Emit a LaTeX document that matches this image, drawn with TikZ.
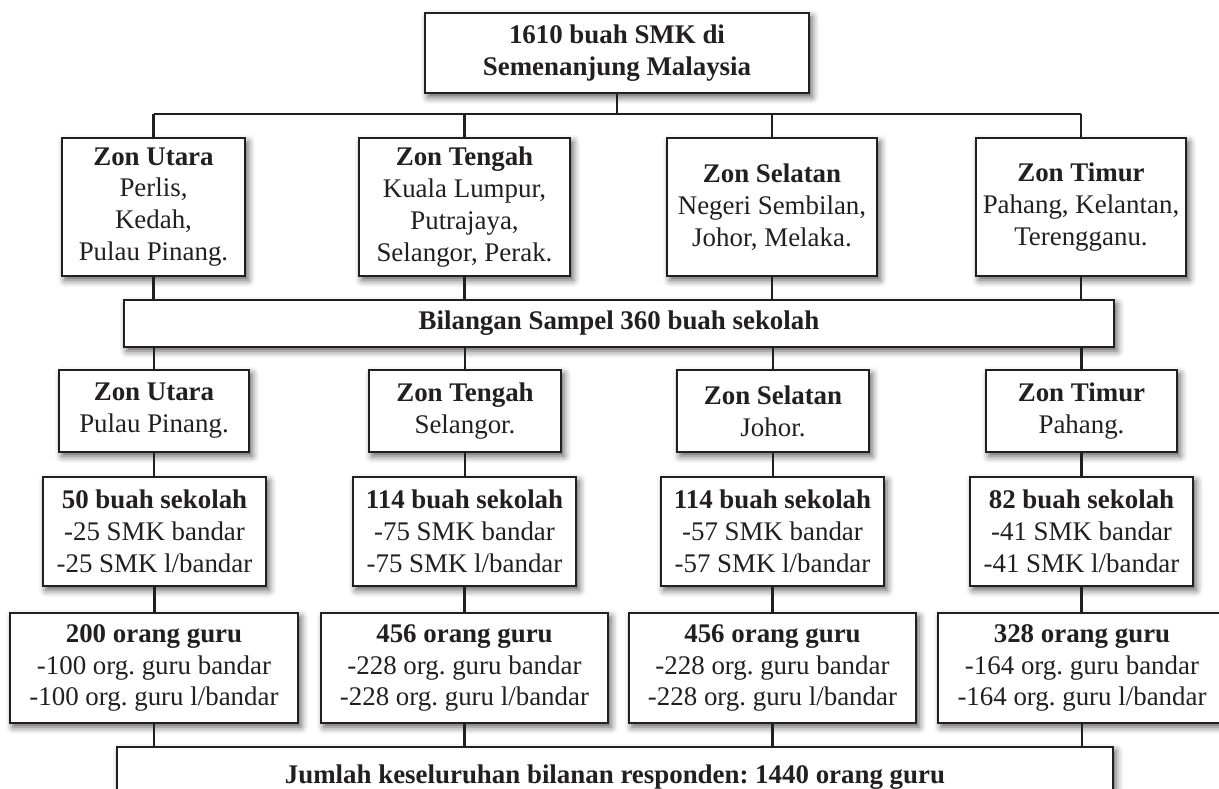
\documentclass[tikz,border=0pt]{standalone}
\usepackage{fontspec}
\setmainfont{Liberation Serif}
\frenchspacing
\usetikzlibrary{shadows.blur}
\definecolor{ink}{HTML}{231F20}
\tikzset{
  box/.style={draw=ink, line width=1.4bp, fill=white, inner sep=0pt, align=center,
    text=ink, font=\fontsize{27}{32}\selectfont,
    blur shadow={shadow xshift=3bp, shadow yshift=-4bp, shadow blur radius=7bp, shadow opacity=65}},
  conn/.style={draw=ink, line width=2.4bp},
  hconn/.style={draw=ink, line width=1.4bp},
}
\begin{document}
\begin{tikzpicture}[x=1bp,y=-1bp]
\useasboundingbox (0,0) rectangle (1219,789);
\clip (0,0) rectangle (1219,789);
% top
\node[box, minimum width=384bp, minimum height=80bp] (top) at (617,53) {\textbf{1610 buah SMK di}\\\textbf{Semenanjung Malaysia}};
% row 1
\node[box, minimum width=183bp, minimum height=138bp] (a1) at (153.5,207) {\textbf{Zon Utara}\\Perlis,\\Kedah,\\Pulau Pinang.};
\node[box, minimum width=211bp, minimum height=138bp] (b1) at (464.5,207) {\textbf{Zon Tengah}\\Kuala Lumpur,\\Putrajaya,\\Selangor, Perak.};
\node[box, minimum width=210bp, minimum height=138bp] (c1) at (772,207) {\textbf{Zon Selatan}\\Negeri Sembilan,\\Johor, Melaka.};
\node[box, minimum width=210bp, minimum height=138bp] (d1) at (1081,207) {\textbf{Zon Timur}\\Pahang, Kelantan,\\Terengganu.};
% bar
\node[box, minimum width=990bp, minimum height=47bp] (bar) at (619,323.5) {\textbf{Bilangan Sampel 360 buah sekolah}};
% row 2
\node[box, minimum width=190bp, minimum height=82bp] (a2) at (154,411) {\textbf{Zon Utara}\\Pulau Pinang.};
\node[box, minimum width=192bp, minimum height=82bp] (b2) at (465,411) {\textbf{Zon Tengah}\\Selangor.};
\node[box, minimum width=192bp, minimum height=82bp] (c2) at (773,411) {\textbf{Zon Selatan}\\Johor.};
\node[box, minimum width=191bp, minimum height=82bp] (d2) at (1081.5,411) {\textbf{Zon Timur}\\Pahang.};
% row 3
\node[box, minimum width=223bp, minimum height=109bp] (a3) at (154.5,531.5) {\textbf{50 buah sekolah}\\-25 SMK bandar\\-25 SMK l/bandar};
\node[box, minimum width=223bp, minimum height=109bp] (b3) at (464.5,531.5) {\textbf{114 buah sekolah}\\-75 SMK bandar\\-75 SMK l/bandar};
\node[box, minimum width=223bp, minimum height=109bp] (c3) at (772.5,531.5) {\textbf{114 buah sekolah}\\-57 SMK bandar\\-57 SMK l/bandar};
\node[box, minimum width=223bp, minimum height=109bp] (d3) at (1081.5,531.5) {\textbf{82 buah sekolah}\\-41 SMK bandar\\-41 SMK l/bandar};
% row 4
\node[box, minimum width=288bp, minimum height=110bp] (a4) at (154,668) {\textbf{200 orang guru}\\-100 org. guru bandar\\-100 org. guru l/bandar};
\node[box, minimum width=287bp, minimum height=110bp] (b4) at (464.5,668) {\textbf{456 orang guru}\\-228 org. guru bandar\\-228 org. guru l/bandar};
\node[box, minimum width=287bp, minimum height=110bp] (c4) at (772.5,668) {\textbf{456 orang guru}\\-228 org. guru bandar\\-228 org. guru l/bandar};
\node[box, minimum width=288bp, minimum height=110bp] (d4) at (1082,668) {\textbf{328 orang guru}\\-164 org. guru bandar\\-164 org. guru l/bandar};
% bottom bar
\node[box, minimum width=996bp, minimum height=60bp] (tot) at (615,777) {\textbf{Jumlah keseluruhan bilanan responden: 1440 orang guru}};
% connectors
\coordinate (hl) at (617,114);
\draw[hconn] (top.south) -- (hl);
\draw[hconn] (a1.north |- hl) -- (d1.north |- hl);
\foreach \n in {a1,b1,c1,d1}{\draw[conn] (\n.north |- hl) -- (\n.north);}
\foreach \n in {a1,b1,c1,d1}{\draw[conn] (\n.south) -- (\n.south |- bar.north);}
\foreach \n in {a2,b2,c2,d2}{\draw[conn] (\n.north |- bar.south) -- (\n.north);}
\draw[conn] (a2.south) -- (a2.south |- a3.north);
\draw[conn] (b2.south) -- (b2.south |- b3.north);
\draw[conn] (c2.south) -- (c2.south |- c3.north);
\draw[conn] (d2.south) -- (d2.south |- d3.north);
\draw[conn] (a3.south) -- (a3.south |- a4.north);
\draw[conn] (b3.south) -- (b3.south |- b4.north);
\draw[conn] (c3.south) -- (c3.south |- c4.north);
\draw[conn] (d3.south) -- (d3.south |- d4.north);
\foreach \n in {a4,b4,c4,d4}{\draw[conn] (\n.south) -- (\n.south |- tot.north);}
\end{tikzpicture}
\end{document}
